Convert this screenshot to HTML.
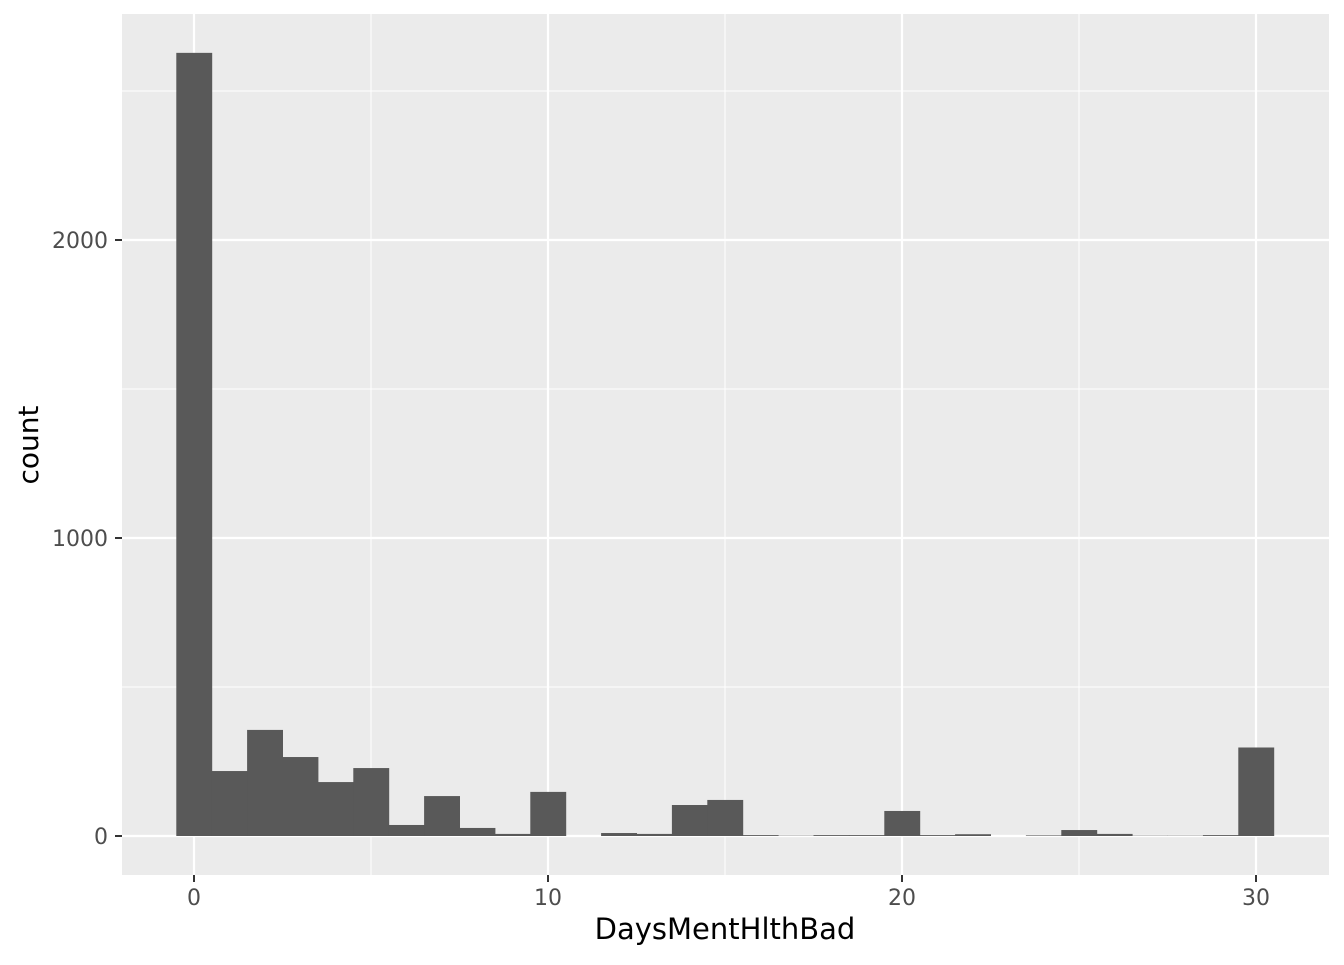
<!DOCTYPE html>
<html><head><meta charset="utf-8"><style>
body{margin:0;background:#fff}
text{font-family:"DejaVu Sans","Liberation Sans",sans-serif}
</style></head><body>
<svg id="chart" width="1344" height="960" xmlns="http://www.w3.org/2000/svg">
<rect width="1344" height="960" fill="#fff"/>
<rect x="122" y="14" width="1207" height="861" fill="#ebebeb"/>
<g id="grid"></g><g id="bars"></g><g id="axes"></g>
<text x="725" y="939" font-size="29" text-anchor="middle" fill="#000">DaysMentHlthBad</text>
<text transform="translate(38,445) rotate(-90)" font-size="28" text-anchor="middle" fill="#000">count</text>
</svg>
<script>
const binStarts = [0,1,2,3,4,5,6,7,8,9,10,11,12,13,14,15,16,17,18,19,20,21,22,23,24,25,26,27,28,29,30];
const counts = [2628,218,356,265,181,228,37,134,27,7,148,0,10,7,104,121,3,1,3,3,84,3,6,0,2,20,7,1,1,3,297];
const xTicks = [0,10,20,30];
const xMinor = [5,15,25];
const yTicks = [0,1000,2000];
const yMinor = [500,1500,2500];
const binWidth = 1;
const NS="http://www.w3.org/2000/svg";
const xs = v => 194 + (v)*35.4;
const ys = v => 836 - v*0.298;
function mk(tag, attrs, parent){const e=document.createElementNS(NS,tag);for(const k in attrs)e.setAttribute(k,attrs[k]);parent.appendChild(e);return e;}
const grid=document.getElementById('grid'), bars=document.getElementById('bars'), axes=document.getElementById('axes');
yMinor.forEach(v=>{const l=mk('line',{x1:122,x2:1329,y1:ys(v),y2:ys(v),stroke:'#fff','stroke-width':1},grid);

});
xMinor.forEach(v=>{const l=mk('line',{x1:xs(v),x2:xs(v),y1:14,y2:875,stroke:'#fff','stroke-width':1},grid);

});
yTicks.forEach(v=>{const l=mk('line',{x1:122,x2:1329,y1:ys(v),y2:ys(v),stroke:'#fff','stroke-width':2.2},grid);


const t=mk('line',{x1:115,x2:122,y1:ys(v),y2:ys(v),stroke:'#333','stroke-width':2},axes);


const tx=mk('text',{x:108,y:ys(v)+8,'font-size':22,'text-anchor':'end',fill:'#4d4d4d'},axes);tx.textContent=v;

});
xTicks.forEach(v=>{const l=mk('line',{x1:xs(v),x2:xs(v),y1:14,y2:875,stroke:'#fff','stroke-width':2.2},grid);


const t=mk('line',{x1:xs(v),x2:xs(v),y1:875,y2:882,stroke:'#333','stroke-width':2},axes);


const tx=mk('text',{x:xs(v),y:905,'font-size':22,'text-anchor':'middle',fill:'#4d4d4d'},axes);tx.textContent=v;

});
counts.forEach((c,i)=>{if(c<=0)return;const x0=xs(binStarts[i]-binWidth/2),x1=xs(binStarts[i]+binWidth/2);
const r=mk('rect',{x:x0,y:ys(c),width:x1-x0+0.5,height:ys(0)-ys(c),fill:'#595959'},bars);

});
</script>
</body></html>
